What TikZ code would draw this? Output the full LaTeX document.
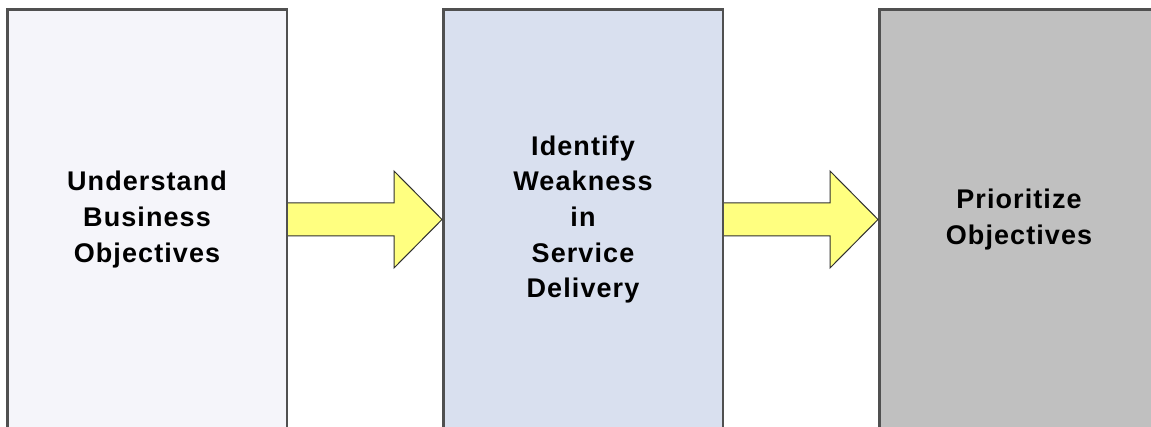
\documentclass[tikz,border=0pt]{standalone}
\usepackage{fontspec}
\usetikzlibrary{calc}
\newfontfamily\boxfont{Liberation Sans}[LetterSpace=4.0]
\definecolor{boxline}{HTML}{505050}
\definecolor{fillA}{HTML}{F5F5FA}
\definecolor{fillB}{HTML}{D9E0EF}
\definecolor{fillC}{HTML}{C0C0C0}
\definecolor{arrowfill}{HTML}{FFFF80}
\definecolor{arrowline}{HTML}{303030}
\tikzset{
  stagebox/.style={rectangle, draw=boxline, line width=2.5pt,
    minimum width=279.5pt, minimum height=420pt, inner sep=0pt,
    align=center, font=\boxfont\bfseries\fontsize{27}{35.6}\selectfont},
  flowarrow/.style={fill=arrowfill, draw=arrowline, line width=1pt, line join=miter}
}
\begin{document}
\begin{tikzpicture}[x=1pt,y=-1pt]
\useasboundingbox (0,0) rectangle (1151,427);
\fill[white] (0,0) rectangle (1151,427);

% the three stages
\node[stagebox, fill=fillA] (b1) at (147,219.5) {Understand\\Business\\Objectives};
\node[stagebox, fill=fillB] (b2) at (583,219.5) {Identify\\Weakness\\in\\Service\\Delivery};
\node[stagebox, fill=fillC] (b3) at (1019,219.5) {Prioritize\\Objectives};

% block arrows between neighbouring stages
\foreach \s/\t in {b1/b2, b2/b3}{
  \draw[flowarrow]
    ($(\s.east)+(0,-16.5)$) -- ($(\t.west)+(-48,-16.5)$) -- ($(\t.west)+(-48,-48.5)$)
    -- (\t.west) -- ($(\t.west)+(-48,48.5)$) -- ($(\t.west)+(-48,16.5)$)
    -- ($(\s.east)+(0,16.5)$);
}
\end{tikzpicture}
\end{document}
